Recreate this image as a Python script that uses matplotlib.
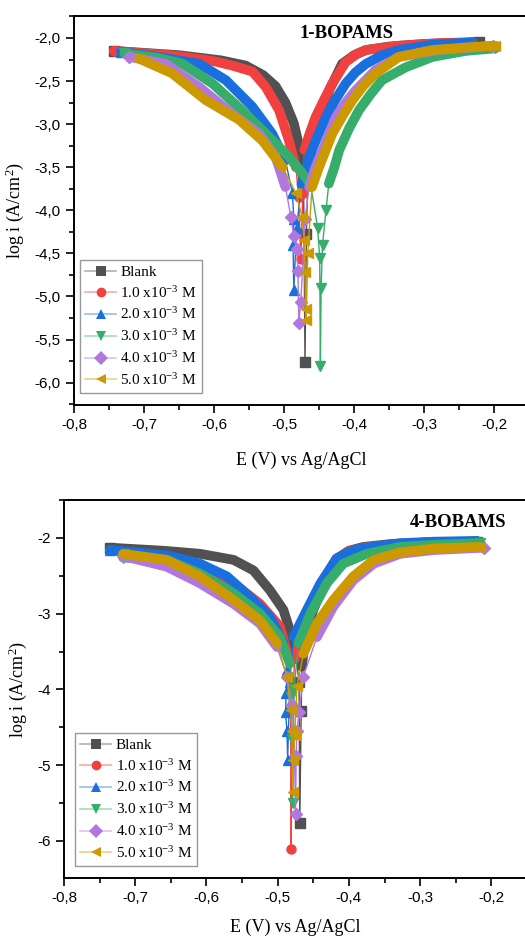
import numpy as np
import matplotlib
matplotlib.use("Agg")
import matplotlib.pyplot as plt
from matplotlib.lines import Line2D
from matplotlib.colors import to_rgba
from matplotlib.ticker import MultipleLocator, FuncFormatter

# ── Data (E in V vs Ag/AgCl, log i in A/cm²) ──

labels = ["Blank", "1.0 x10$^{\\mathregular{-3}}$ M", "2.0 x10$^{\\mathregular{-3}}$ M",
          "3.0 x10$^{\\mathregular{-3}}$ M", "4.0 x10$^{\\mathregular{-3}}$ M",
          "5.0 x10$^{\\mathregular{-3}}$ M"]
colors = ["#515151", "#F14040", "#1A6FDF", "#37AD6B", "#B177DE", "#CC9900"]
markers = ["s", "o", "^", "v", "D", "<"]

# 1-BOPAMS
top_blank_E = [-0.743, -0.650, -0.590, -0.555, -0.530, -0.512, -0.498, -0.486, -0.477, -0.472, -0.470,
               -0.468, -0.466, -0.460, -0.450, -0.435, -0.417, -0.400, -0.383, -0.350, -0.300, -0.221]
top_blank_i = [-2.15, -2.20, -2.26, -2.32, -2.43, -2.56, -2.75, -2.99, -3.30, -3.70, -5.76,
               -4.27, -3.60, -3.28, -2.98, -2.60, -2.30, -2.20, -2.14, -2.10, -2.07, -2.05]
top_c1_E = [-0.743, -0.650, -0.600, -0.574, -0.545, -0.526, -0.507, -0.493, -0.483, -0.479, -0.476, -0.473,
            -0.471, -0.463, -0.455, -0.443, -0.431, -0.412, -0.395, -0.383, -0.336, -0.280, -0.231]
top_c1_i = [-2.15, -2.21, -2.27, -2.32, -2.39, -2.57, -2.84, -3.19, -3.50, -3.85, -4.56, -3.80,
            -3.30, -3.10, -2.92, -2.72, -2.53, -2.28, -2.18, -2.14, -2.09, -2.06, -2.05]
top_c2_E = [-0.733, -0.680, -0.621, -0.583, -0.545, -0.517, -0.498, -0.488, -0.486, -0.487, -0.486, -0.482,
            -0.475, -0.464, -0.452, -0.440, -0.426, -0.412, -0.398, -0.383, -0.360, -0.336, -0.290, -0.231]
top_c2_i = [-2.16, -2.22, -2.30, -2.49, -2.80, -3.11, -3.42, -3.80, -4.10, -4.40, -4.93, -4.20,
            -3.70, -3.38, -3.14, -2.92, -2.71, -2.53, -2.40, -2.30, -2.20, -2.14, -2.08, -2.05]
top_c3_E = [-0.728, -0.680, -0.645, -0.602, -0.560, -0.526, -0.493, -0.474, -0.462, -0.452, -0.449, -0.448, -0.447,
            -0.445, -0.440, -0.436, -0.428, -0.421, -0.407, -0.393, -0.376, -0.360, -0.326, -0.288, -0.240, -0.198]
top_c3_i = [-2.18, -2.23, -2.30, -2.53, -2.84, -3.11, -3.38, -3.57, -3.70, -4.20, -4.55, -5.81, -4.90,
            -4.40, -4.00, -3.69, -3.50, -3.30, -3.05, -2.84, -2.65, -2.49, -2.34, -2.22, -2.15, -2.12]
top_c4_E = [-0.721, -0.669, -0.621, -0.574, -0.536, -0.512, -0.498, -0.490, -0.486, -0.482, -0.480, -0.479,
            -0.476, -0.470, -0.464, -0.455, -0.440, -0.426, -0.412, -0.398, -0.369, -0.336, -0.280, -0.202]
top_c4_i = [-2.22, -2.30, -2.57, -2.88, -3.11, -3.38, -3.73, -4.08, -4.30, -4.45, -4.70, -5.31,
            -5.07, -4.10, -3.73, -3.50, -3.20, -2.92, -2.75, -2.61, -2.37, -2.22, -2.14, -2.09]
top_c5_E = [-0.707, -0.660, -0.612, -0.564, -0.531, -0.502, -0.483, -0.474, -0.471, -0.470, -0.469, -0.468,
            -0.466, -0.460, -0.450, -0.431, -0.416, -0.402, -0.386, -0.369, -0.336, -0.288, -0.240, -0.198]
top_c5_i = [-2.24, -2.41, -2.72, -2.95, -3.19, -3.50, -3.80, -4.08, -4.35, -4.72, -5.27, -5.15,
            -4.50, -3.73, -3.50, -3.11, -2.90, -2.72, -2.55, -2.41, -2.22, -2.14, -2.11, -2.09]

# 4-BOBAMS
bot_blank_E = [-0.735, -0.660, -0.609, -0.562, -0.534, -0.511, -0.492, -0.480, -0.474, -0.470, -0.469,
               -0.467, -0.466, -0.462, -0.450, -0.435, -0.418, -0.400, -0.380, -0.340, -0.290, -0.220]
bot_blank_i = [-2.13, -2.17, -2.21, -2.29, -2.43, -2.69, -2.95, -3.31, -3.60, -3.90, -5.76,
               -4.28, -3.70, -3.35, -2.95, -2.60, -2.28, -2.17, -2.12, -2.08, -2.06, -2.05]
bot_c1_E = [-0.735, -0.656, -0.609, -0.562, -0.525, -0.497, -0.485, -0.482, -0.481, -0.480,
            -0.476, -0.465, -0.450, -0.435, -0.418, -0.400, -0.380, -0.340, -0.290, -0.222]
bot_c1_i = [-2.16, -2.25, -2.38, -2.60, -2.87, -3.17, -3.57, -3.95, -6.11, -4.20,
            -3.60, -3.25, -2.85, -2.55, -2.28, -2.18, -2.13, -2.09, -2.06, -2.05]
bot_c2_E = [-0.735, -0.656, -0.609, -0.571, -0.539, -0.511, -0.492, -0.487, -0.488, -0.489, -0.487,
            -0.486, -0.483, -0.478, -0.459, -0.440, -0.417, -0.400, -0.384, -0.328, -0.280, -0.220]
bot_c2_i = [-2.16, -2.23, -2.34, -2.51, -2.78, -3.04, -3.39, -3.75, -4.05, -4.30, -4.55,
            -4.93, -3.90, -3.31, -2.95, -2.60, -2.27, -2.19, -2.14, -2.07, -2.05, -2.04]
bot_c3_E = [-0.717, -0.656, -0.609, -0.562, -0.525, -0.497, -0.483, -0.481, -0.480, -0.479,
            -0.477, -0.471, -0.454, -0.431, -0.408, -0.375, -0.328, -0.280, -0.216]
bot_c3_i = [-2.26, -2.29, -2.47, -2.73, -3.00, -3.31, -3.66, -4.10, -4.65, -5.50,
            -4.00, -3.39, -3.00, -2.60, -2.34, -2.21, -2.12, -2.09, -2.07]
bot_c4_E = [-0.717, -0.656, -0.609, -0.562, -0.525, -0.501, -0.487, -0.480, -0.477, -0.475, -0.474,
            -0.473, -0.470, -0.464, -0.445, -0.422, -0.394, -0.365, -0.328, -0.280, -0.211]
bot_c4_i = [-2.24, -2.38, -2.60, -2.87, -3.13, -3.44, -3.83, -4.20, -4.55, -5.64, -4.88,
            -4.55, -4.30, -3.83, -3.31, -2.91, -2.56, -2.34, -2.21, -2.16, -2.13]
bot_c5_E = [-0.717, -0.656, -0.609, -0.562, -0.525, -0.501, -0.487, -0.482, -0.480, -0.479, -0.478,
            -0.476, -0.473, -0.464, -0.445, -0.422, -0.394, -0.365, -0.328, -0.280, -0.216]
bot_c5_i = [-2.21, -2.29, -2.51, -2.82, -3.09, -3.39, -3.83, -4.27, -4.55, -5.36, -4.93,
            -4.60, -3.96, -3.53, -3.13, -2.82, -2.51, -2.29, -2.19, -2.14, -2.12]

top_series = [(top_blank_E, top_blank_i), (top_c1_E, top_c1_i), (top_c2_E, top_c2_i),
              (top_c3_E, top_c3_i), (top_c4_E, top_c4_i), (top_c5_E, top_c5_i)]
bot_series = [(bot_blank_E, bot_blank_i), (bot_c1_E, bot_c1_i), (bot_c2_E, bot_c2_i),
              (bot_c3_E, bot_c3_i), (bot_c4_E, bot_c4_i), (bot_c5_E, bot_c5_i)]

SERIF = "Liberation Serif"
SANS = "Liberation Sans"
plt.rcParams["mathtext.fontset"] = "custom"
plt.rcParams["mathtext.rm"] = SERIF
plt.rcParams["mathtext.it"] = SERIF + ":italic"

BAND_TOP = -3.75  # above this the measured points are so dense they merge into a band


def comma(v, nd):
    return f"{v:.{nd}f}".replace(".", ",")


def draw_panel(ax, series, title, title_xy, ylim, ymajor, ynd, leg_anchor, xpad):
    for (E, li), c, m in zip(series, colors, markers):
        E = np.asarray(E)
        li = np.asarray(li)
        band = np.where(li > BAND_TOP, li, np.nan)
        ax.plot(E, li, '-', color=c, lw=1.0, zorder=2)
        ax.plot(E, band, '-', color=c, lw=7, solid_capstyle='round', zorder=2)
        show = li <= BAND_TOP
        show[0] = show[-1] = True
        ax.plot(E[show], li[show], ls='none', marker=m, ms=6.5, mec=c, mfc=c, zorder=2)

    ax.set_xlim(-0.8, -0.15)
    ax.set_ylim(*ylim)
    ax.xaxis.set_major_locator(MultipleLocator(0.1))
    ax.xaxis.set_minor_locator(MultipleLocator(0.05))
    ax.yaxis.set_major_locator(MultipleLocator(ymajor))
    ax.yaxis.set_minor_locator(MultipleLocator(ymajor / 2))
    ax.xaxis.set_major_formatter(FuncFormatter(lambda v, p: comma(v, 1)))
    ax.yaxis.set_major_formatter(FuncFormatter(lambda v, p: comma(v, ynd)))
    ax.tick_params(which='both', direction='out', top=False, right=False, width=1.2)
    ax.tick_params(which='major', length=6, labelsize=11)
    ax.tick_params(which='minor', length=3.5)
    for t in ax.get_xticklabels() + ax.get_yticklabels():
        t.set_fontfamily(SANS)
    for s in ax.spines.values():
        s.set_linewidth(1.4)

    ax.set_xlabel("E (V) vs Ag/AgCl", fontfamily=SERIF, fontsize=13, labelpad=xpad)
    ax.set_ylabel("log i (A/cm$^{\\mathregular{2}}$)", fontfamily=SERIF, fontsize=13, labelpad=6)
    ax.text(title_xy[0], title_xy[1], title, transform=ax.transAxes, ha='center', va='center',
            fontfamily=SERIF, fontweight='bold', fontsize=13.5)

    handles = [Line2D([0], [0], color=to_rgba(c, 0.45), lw=1.2, marker=m, ms=7,
                      mfc=c, mec=c, markeredgewidth=0) for c, m in zip(colors, markers)]
    leg = ax.legend(handles, labels, loc='lower left', bbox_to_anchor=leg_anchor, borderaxespad=0,
                    prop={'family': SERIF, 'size': 11}, fancybox=False, framealpha=1,
                    edgecolor='#999999', handlelength=2.0, handletextpad=0.3,
                    labelspacing=0.38, borderpad=0.35)
    leg.get_frame().set_linewidth(1.0)


fig = plt.figure(figsize=(5.25, 9.38), dpi=100)

ax1 = fig.add_axes([74 / 525, 1 - 405 / 938, 455 / 525, 389 / 938])
draw_panel(ax1, top_series, "1-BOPAMS", (0.598, 0.955), (-6.26, -1.745), 0.5, 1, (0.013, 0.031), 14)

ax2 = fig.add_axes([64 / 525, 1 - 878 / 938, 463 / 525, 378 / 938])
draw_panel(ax2, bot_series, "4-BOBAMS", (0.85, 0.94), (-6.49, -1.5), 1.0, 0, (0.024, 0.032), 10)

fig.savefig("out.png", dpi=100)
